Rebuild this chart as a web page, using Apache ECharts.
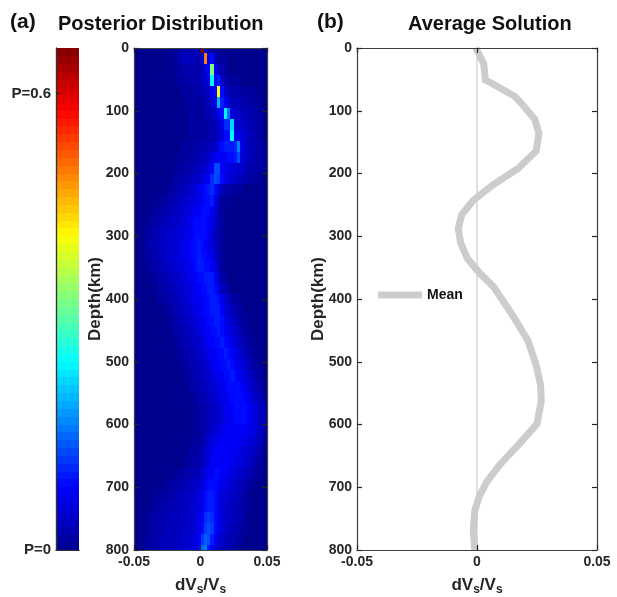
<!DOCTYPE html>
<html><head><meta charset="utf-8">
<script src="https://cdn.jsdelivr.net/npm/echarts@6/dist/echarts.min.js"></script>
<style>html,body{margin:0;padding:0;background:#fff}#c{width:617px;height:597px}</style>
</head><body><div id="c"></div>
<script>
const FONT = '"Liberation Sans", Arial, Helvetica, sans-serif';

// ---- Panel (a): posterior distribution grid ----
// 40 dVs/Vs bins from -0.05 to 0.05, 47 depth bins centred from 0 to 800 km
const xMin = -0.05, xMax = 0.05, nCols = 40;
const depthMax = 800, nRows = 47;
// each character = probability level; value = index in alphabet * codeUnit
const codeAlphabet = '0123456789abcdefghijklmnopqrstuvwxyzABCDEFGHIJKLMNOPQRSTUVWXYZ';
const codeUnit = 0.011;
const posteriorRows = [
  "0000000000 0011222223 Y411100000 0000000000",
  "0000000000 0012333322 5J68311100 0000000000",
  "0000000000 0011222222 358u732100 0000000000",
  "0000000000 0001112222 346m894211 1100000000",
  "0000000000 0000111122 23468B8422 2211111000",
  "0000000000 0000011111 12346i9743 3322211100",
  "0000000000 0000001111 1223468me5 4433222110",
  "0000000000 0000001111 1122346aak 5443322110",
  "0000000000 0000001111 112234588m 6654332110",
  "0000000000 0000111122 2233468999 af64332211",
  "0000000000 0001111222 3345677788 9c54332211",
  "0000000000 0011122233 4457cc7655 5443222111",
  "0000000000 0112223344 567acb8654 4332211100",
  "0000000000 1122334456 789a853221 1110000000",
  "0000000111 2233445566 7889631110 0000000000",
  "0000011122 3334455677 8887521000 0000000000",
  "0000112233 3444556788 8876421000 0000000000",
  "0001122334 4445566788 8875321000 0000000000",
  "0001223344 4455667889 8765321000 0000000000",
  "0001122334 4455667889 8876421000 0000000000",
  "0000112233 4445566789 9887531000 0000000000",
  "0000011222 3344556778 8999742100 0000000000",
  "0000001122 2334455677 8899863210 0000000000",
  "0000000111 2233445667 7889986432 1100000000",
  "0000000001 1223344566 7889997543 2110000000",
  "0000000000 1122334456 6788998654 3211000000",
  "0000000000 0112233445 6778898765 4321100000",
  "0000000000 0011223344 5677889876 5432110000",
  "0000000000 0001122334 4567788987 6543211000",
  "0000000000 0000112233 4456778898 7654321100",
  "0000000000 0000011223 3445677889 8765432110",
  "0000000000 0000001122 3344566788 8876543211",
  "0000000000 0000000112 2334456678 8887654321",
  "0000000000 0000000011 2233445677 8888765432",
  "0000000000 0000000011 2233445667 8888765432",
  "0000000000 0000000011 2234556777 7777665432",
  "0000000000 0000000111 2345667777 7766554321",
  "0000000000 0000001112 3456777777 6655443211",
  "0000000000 0000011122 3457777776 6554432110",
  "0000000000 0011122233 4577887765 5443321100",
  "0000000001 1122233344 5788876654 4332110000",
  "0000001111 2223333445 6899865544 3321100000",
  "0000011122 2233334455 6899865443 3221100000",
  "0000112222 3333344456 7aba865443 3221000000",
  "0000112223 3333344456 8bcb865433 2211000000",
  "0001122233 3333444557 bdc9754332 2110000000",
  "0001122233 3334444558 ef96543322 1100000000"
];

// colour bar range and its labelled ticks
const pMax = 0.66;
const pTicks = [0, 0.6];
const cbSteps = 64;

// ---- Panel (b): mean model ----
const meanDepth = [0, 25, 51, 53, 77, 90, 113, 136, 164, 192, 218, 243, 266, 288, 311, 336, 359, 381, 427, 466, 506, 537, 562, 599, 630, 664, 692, 715, 737, 769, 800];
const meanDv = [-0.0005, 0.0028, 0.0035, 0.0046, 0.0157, 0.0189, 0.024, 0.0258, 0.0247, 0.0171, 0.0067, -0.0016, -0.0064, -0.0078, -0.0068, -0.0039, 0.0012, 0.007, 0.015, 0.0212, 0.0247, 0.0265, 0.0268, 0.025, 0.0178, 0.0095, 0.004, 0.0009, -0.0009, -0.0016, -0.0009];

const xTickStep = 0.05;
const depthTickStep = 100;

// ---- build series data ----
const heatData = [];
const rowStep = depthMax / (nRows - 1);
const colStep = (xMax - xMin) / nCols;
const rowEdge = r => Math.min(depthMax, Math.max(0, (r - 0.5) * rowStep));
const colEdge = c => xMin + c * colStep;
posteriorRows.forEach((row, r) => {
  const codes = row.replace(/ /g, '');
  const d0 = rowEdge(r), d1 = rowEdge(r + 1);
  for (let c = 0; c < nCols; c++) {
    const p = codeAlphabet.indexOf(codes[c]) * codeUnit;
    heatData.push([colEdge(c), d0, p, colEdge(c + 1), d1]);
  }
});
const cbData = [];
for (let i = 0; i < cbSteps; i++) {
  const v0 = i * pMax / cbSteps, v1 = (i + 1) * pMax / cbSteps;
  cbData.push([0, v0, (v0 + v1) / 2, 1, v1]);
}
const meanData = meanDepth.map((d, i) => [meanDv[i], d]);
const zeroData = [[0, 0], [0, depthMax]];

function rectItem(params, api) {
  const a = api.coord([api.value(0), api.value(1)]);
  const b = api.coord([api.value(3), api.value(4)]);
  const x = Math.round(Math.min(a[0], b[0])), x2 = Math.round(Math.max(a[0], b[0]));
  const y = Math.round(Math.min(a[1], b[1])), y2 = Math.round(Math.max(a[1], b[1]));
  return { type: 'rect', shape: { x: x, y: y, width: x2 - x, height: y2 - y }, style: { fill: api.visual('color') } };
}

const labelStyle = { color: '#262626', fontSize: 14, fontWeight: 'bold', fontFamily: FONT, margin: 5 };
function ax(extra) {
  return Object.assign({
    type: 'value',
    axisLine: { show: true, onZero: false, lineStyle: { color: '#404040', width: 1.2 } },
    axisTick: { show: true, inside: true, length: 5, lineStyle: { color: '#262626', width: 1.2 } },
    axisLabel: Object.assign({}, labelStyle),
    splitLine: { show: false },
    nameMoveOverlap: false,
    z: 10
  }, extra);
}
const xNameStyle = {
  color: '#262626', fontSize: 17, fontWeight: 'bold', fontFamily: FONT, lineHeight: 22,
  rich: { s: { fontSize: 12, fontWeight: 'bold', fontFamily: FONT, color: '#262626', verticalAlign: 'bottom', lineHeight: 12 } }
};
const yNameStyle = { color: '#262626', fontSize: 17, fontWeight: 'bold', fontFamily: FONT };
const xName = 'dV{s|s}/V{s|s}';
const noLabel = { show: false };

const option = {
  animation: false,
  backgroundColor: '#ffffff',
  title: [
    { text: '(a)', left: 10, top: 12, padding: 0, textStyle: { fontSize: 21, fontWeight: 'bold', color: '#111', fontFamily: FONT } },
    { text: 'Posterior Distribution', left: 58, top: 14, padding: 0, textStyle: { fontSize: 20, fontWeight: 'bold', color: '#111', fontFamily: FONT } },
    { text: '(b)', left: 317, top: 12, padding: 0, textStyle: { fontSize: 21, fontWeight: 'bold', color: '#111', fontFamily: FONT } },
    { text: 'Average Solution', left: 408, top: 14, padding: 0, textStyle: { fontSize: 20, fontWeight: 'bold', color: '#111', fontFamily: FONT } }
  ],
  legend: {
    data: ['Mean'], left: 378, top: 288, icon: 'rect', itemWidth: 44, itemHeight: 7, itemGap: 5,
    selectedMode: false, padding: 0,
    textStyle: { fontSize: 14, fontWeight: 'bold', color: '#111', fontFamily: FONT }
  },
  visualMap: {
    type: 'continuous', show: false, min: 0, max: pMax, dimension: 2, seriesIndex: [0, 1],
    inRange: { color: ['#00008f', '#0000ff', '#0080ff', '#00ffff', '#80ff80', '#ffff00', '#ff8000', '#ff0000', '#800000'] }
  },
  grid: [
    { left: 134, top: 48, width: 133, height: 502, outerBoundsMode: 'none', containLabel: false },
    { left: 357, top: 48, width: 240, height: 502, outerBoundsMode: 'none', containLabel: false },
    { left: 56, top: 48, width: 23, height: 502, outerBoundsMode: 'none', containLabel: false }
  ],
  xAxis: [
    ax({ gridIndex: 0, min: xMin, max: xMax, interval: xTickStep, position: 'bottom', name: xName, nameLocation: 'middle', nameGap: 24, nameTextStyle: xNameStyle }),
    ax({ gridIndex: 0, min: xMin, max: xMax, interval: xTickStep, position: 'top', axisLabel: noLabel }),
    ax({ gridIndex: 1, min: xMin, max: xMax, interval: xTickStep, position: 'bottom', name: xName, nameLocation: 'middle', nameGap: 24, nameTextStyle: xNameStyle }),
    ax({ gridIndex: 1, min: xMin, max: xMax, interval: xTickStep, position: 'top', axisLabel: noLabel }),
    ax({ gridIndex: 2, min: 0, max: 1, position: 'bottom', axisLabel: noLabel, axisTick: { show: false }, axisLine: { show: true, lineStyle: { color: '#333', width: 1.2 } } }),
    ax({ gridIndex: 2, min: 0, max: 1, position: 'top', axisLabel: noLabel, axisTick: { show: false }, axisLine: { show: true, lineStyle: { color: '#333', width: 1.2 } } })
  ],
  yAxis: [
    ax({ gridIndex: 0, min: 0, max: depthMax, interval: depthTickStep, inverse: true, position: 'left', name: 'Depth(km)', nameLocation: 'middle', nameGap: 30, nameTextStyle: yNameStyle }),
    ax({ gridIndex: 0, min: 0, max: depthMax, interval: depthTickStep, inverse: true, position: 'right', axisLabel: noLabel }),
    ax({ gridIndex: 1, min: 0, max: depthMax, interval: depthTickStep, inverse: true, position: 'left', name: 'Depth(km)', nameLocation: 'middle', nameGap: 30, nameTextStyle: yNameStyle }),
    ax({ gridIndex: 1, min: 0, max: depthMax, interval: depthTickStep, inverse: true, position: 'right', axisLabel: noLabel }),
    ax({ gridIndex: 2, min: 0, max: pMax, position: 'left',
      axisLine: { show: true, lineStyle: { color: '#333', width: 1.2 } },
      axisTick: { show: true, inside: true, length: 4, customValues: [pTicks[1]], lineStyle: { color: '#262626', width: 1.2 } },
      axisLabel: Object.assign({}, labelStyle, { fontSize: 15, customValues: pTicks, formatter: v => 'P=' + v }) }),
    ax({ gridIndex: 2, min: 0, max: pMax, position: 'right', axisLabel: noLabel, axisTick: { show: false },
      axisLine: { show: true, lineStyle: { color: '#333', width: 1.2 } } })
  ],
  series: [
    { type: 'custom', name: 'Posterior', xAxisIndex: 0, yAxisIndex: 0, renderItem: rectItem,
      encode: { x: [0, 3], y: [1, 4] }, data: heatData, silent: true, z: 2 },
    { type: 'custom', name: 'Colorbar', xAxisIndex: 4, yAxisIndex: 4, renderItem: rectItem,
      encode: { x: [0, 3], y: [1, 4] }, data: cbData, silent: true, z: 2 },
    { type: 'line', name: 'Mean', xAxisIndex: 2, yAxisIndex: 2, data: meanData, symbol: 'none',
      color: '#cccccc', itemStyle: { color: '#cccccc' },
      lineStyle: { color: '#cccccc', width: 7, cap: 'butt', join: 'miter' }, z: 4, silent: true },
    { type: 'line', name: 'zero', xAxisIndex: 2, yAxisIndex: 2, data: zeroData, symbol: 'none',
      lineStyle: { color: '#d6d6d6', width: 1.5 }, z: 3, silent: true }
  ]
};
const chart = echarts.init(document.getElementById('c'), null, { renderer: 'canvas' });
chart.setOption(option);
</script>
</body></html>
